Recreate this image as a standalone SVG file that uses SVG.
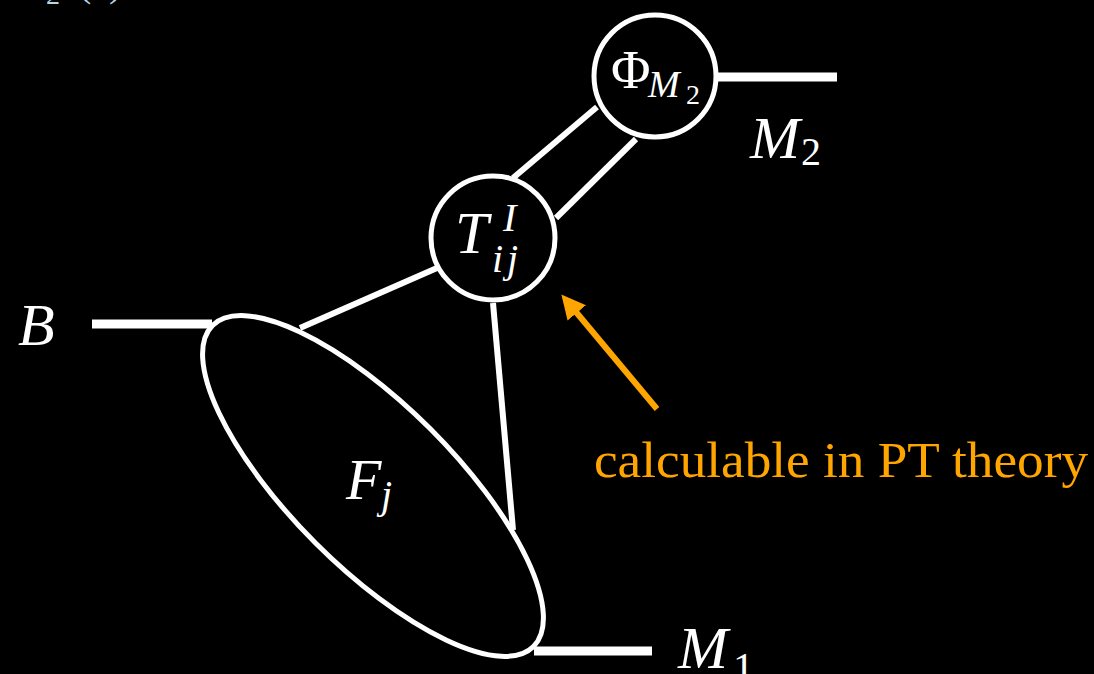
<svg xmlns="http://www.w3.org/2000/svg" width="1094" height="674" viewBox="0 0 1094 674">
<style>
.m{font-family:"Liberation Serif","DejaVu Serif",serif;font-style:italic;fill:#fff}
.u{font-family:"Liberation Serif","DejaVu Serif",serif;fill:#fff}
.node{fill:none;stroke:#fff;stroke-width:5}
.edge{stroke:#fff;stroke-width:6;fill:none}
.leg{stroke:#fff;stroke-width:9;fill:none}
</style>
<defs>
<marker id="ah" viewBox="0 0 10 10" refX="7" refY="5" markerWidth="4" markerHeight="4" orient="auto-start-reverse" markerUnits="strokeWidth">
<path d="M0,0 L10,5 L0,10 z" fill="#ffa500"/>
</marker>
</defs>
<rect width="1094" height="674" fill="#000"/>
<text x="46" y="4" font-family="Liberation Serif, serif" font-size="28" fill="#b8d4e6">2</text>
<text x="78" y="-4" font-family="Liberation Serif, serif" font-size="40" fill="#b8d4e6">(<tspan font-style="italic">x</tspan>)</text>
<g id="connectors">
<line class="edge" x1="513" y1="178" x2="597" y2="107"/>
<line class="edge" x1="556" y1="218" x2="636" y2="139"/>
<line class="edge" x1="437" y1="268" x2="300" y2="328"/>
<line class="edge" x1="493" y1="303" x2="513" y2="530"/>
<line class="leg" x1="716" y1="77" x2="837" y2="77"/>
<line class="leg" x1="92" y1="324" x2="212" y2="324"/>
<line class="leg" x1="534" y1="651" x2="652" y2="651"/>
<line x1="657" y1="409" x2="566" y2="300" stroke="#ffa500" stroke-width="6" marker-end="url(#ah)"/>
</g>
<g id="F">
<ellipse class="node" cx="373" cy="486" rx="227" ry="81" transform="rotate(45 373 486)"/>
<text class="m" x="346" y="499" font-size="58">F</text>
<text class="m" x="381" y="508" font-size="40">j</text>
</g>
<g id="T">
<circle class="node" cx="493" cy="238" r="62" fill="#000"/>
<text class="m" x="455" y="253" font-size="60">T</text>
<text class="m" x="503" y="231" font-size="40">I</text>
<text class="m" x="492" y="272" font-size="40">i</text>
<text class="m" x="507" y="272" font-size="40">j</text>
</g>
<g id="Phi">
<circle class="node" cx="655" cy="76" r="61" fill="#000"/>
<text class="u" x="611" y="88" font-size="54">Φ</text>
<text class="m" x="648" y="97" font-size="38">M</text>
<text class="u" x="686" y="104" font-size="28">2</text>
</g>
<g id="labels">
<text class="m" x="18" y="345" font-size="60">B</text>
<text class="m" x="750" y="158" font-size="60">M</text>
<text class="u" x="801" y="165" font-size="40">2</text>
<text class="m" x="678" y="668" font-size="60">M</text>
<text class="u" x="733" y="682" font-size="42">1</text>
<text x="594" y="477" font-family="Liberation Serif, serif" font-size="50" fill="#ffa500" textLength="494" lengthAdjust="spacingAndGlyphs">calculable in PT theory</text>
</g>
</svg>
